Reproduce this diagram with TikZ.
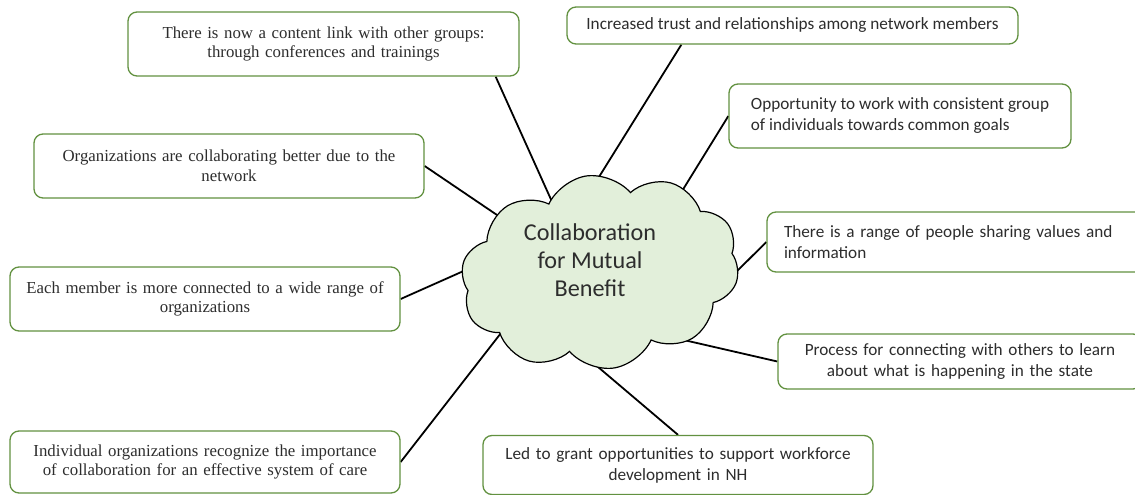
\documentclass[tikz,border=0pt]{standalone}
\usepackage{fontspec}
\setmainfont{Liberation Serif}
\newfontfamily\calibri{Carlito}
\usetikzlibrary{shapes}
\usetikzlibrary{backgrounds}
\definecolor{boxgreen}{RGB}{98,145,64}
\definecolor{cloudfill}{RGB}{226,239,218}
\definecolor{ink}{RGB}{45,45,45}

\begin{document}
\begin{tikzpicture}[x=1pt, y=-1pt,
		card/.style={draw=boxgreen, line width=1.3pt, rounded corners=9pt, fill=white, text=ink, minimum height=64pt, inner ysep=0pt, inner xsep=6pt},
		serifcard/.style={card, align=center, text width=378pt, font=\fontsize{16.8}{19.5}\selectfont},
		sanscard/.style={card, font=\calibri\fontsize{17.2}{21}\selectfont},
		link/.style={line width=1.8pt, shorten >=-10pt}]
		\useasboundingbox (0,0) rectangle (1135,495);
		\clip (0,0) rectangle (1135,495);

		\node[serifcard, text width=379pt] (links) at (323.5,44) {There is now a content link with other groups:\\through conferences and trainings};
		\node[sanscard, align=left, minimum width=451pt, minimum height=37pt] (trust) at (792.5,25.5) {Increased trust and relationships among network members};
		\node[sanscard, align=left, minimum width=342pt] (goals) at (900,116) {Opportunity to work with consistent group\\of individuals towards common goals};
		\node[serifcard] (better) at (229,166) {Organizations are collaborating better due to the\\network};
		\node[sanscard, align=left, inner xsep=17pt, text width=359pt, minimum height=60pt] (values) at (963.5,242) {There is a range of people sharing values and\\information};
		\node[serifcard] (range) at (205,299) {Each member is more connected to a wide range of\\organizations};
		\node[serifcard, minimum height=62pt] (care) at (205,462) {Individual organizations recognize the importance\\of collaboration for an effective system of care};
		\node[sanscard, align=center, text width=378pt, minimum height=59pt] (grant) at (678,465) {Led to grant opportunities to support workforce\\development in NH};
		\node[sanscard, align=center, text width=352pt, minimum height=55pt] (learn) at (960,361.5) {Process for connecting with others to learn\\about what is happening in the state};

		\node[cloud, cloud puffs=10, cloud puff arc=115, cloud ignores aspect, draw=black, line width=1.2pt, fill=cloudfill, minimum width=280pt, minimum height=194pt, rotate=8] (hub) at (600,272) {};
		\node[align=center, text=ink, font=\calibri\fontsize{24.2}{28}\selectfont] (hubtext) at (590,260) {Collaboration\\for Mutual\\Benefit};

		\begin{scope}[on background layer]
			\draw[link] ([xshift=-24pt]links.south east) -- (hub.116);
			\draw[link] ([xshift=115pt]trust.south west) -- (hub.82);
			\foreach \card/\side/\ang in {goals/west/37, better/east/143, values/west/353, range/east/172, care/east/204, learn/west/314}
				\draw[link] (\card.\side) -- (hub.\ang);
			\draw[link] (grant.north) -- (hub.262);
		\end{scope}
	\end{tikzpicture}
\end{document}
